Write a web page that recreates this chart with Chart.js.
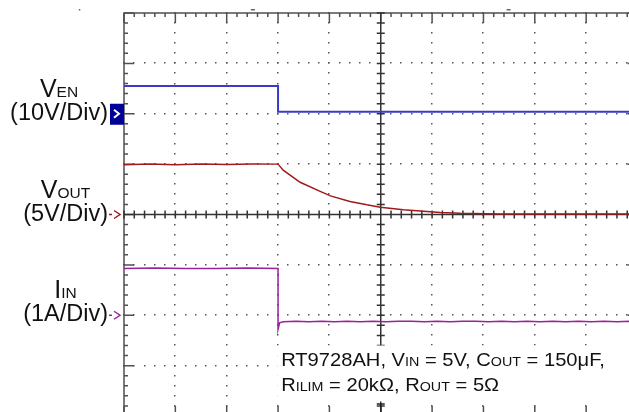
<!DOCTYPE html>
<html>
<head>
<meta charset="utf-8">
<script src="https://cdn.jsdelivr.net/npm/chart.js@4.4.1/dist/chart.umd.min.js"></script>
<style>
html, body { margin: 0; padding: 0; background: #fff; overflow: hidden; }
#wrap { position: relative; width: 629px; height: 412px; overflow: hidden; }
#scope { position: absolute; left: 0; top: 0; }
</style>
</head>
<body>
<div id="wrap"><canvas id="scope" width="640" height="420"></canvas></div>
<script>
// time in divisions from the left edge of the screen (10 div across)
const enTime = [0, 3.0, 3.0, 10];
const enVolts = [5.5, 5.5, 0.4, 0.4];

const outTime = [0, 0.5, 1.0, 1.5, 2.0, 2.5, 3.0, 3.1, 3.43, 3.82, 4.02, 4.4, 4.73, 4.99, 5.44, 5.9, 6.16, 6.55, 7.33, 8.5, 10];
const outVolts = [4.95, 5.0, 4.95, 5.0, 4.97, 5.02, 5.0, 4.4, 3.2, 2.3, 1.85, 1.3, 0.96, 0.73, 0.47, 0.3, 0.2, 0.12, 0.05, 0.05, 0.05];

const inTime = [0, 0.6, 1.2, 1.8, 2.4, 3.0, 3.0, 3.03, 3.1, 3.35, 3.6, 3.85, 4.1, 4.35, 4.6, 4.85, 5.1, 5.35, 5.6, 5.85, 6.1,
  6.35, 6.6, 6.85, 7.1, 7.35, 7.6, 7.85, 8.1, 8.35, 8.6, 8.85, 9.1, 9.35, 9.6, 9.85, 10];
const inAmps = [0.93, 0.94, 0.93, 0.93, 0.94, 0.93, -0.28, -0.15, -0.13, -0.12, -0.13, -0.12, -0.13, -0.12, -0.13, -0.12, -0.13,
  -0.12, -0.12, -0.13, -0.12, -0.13, -0.12, -0.12, -0.13, -0.12, -0.13, -0.12, -0.13, -0.12, -0.13, -0.12, -0.13, -0.12, -0.13, -0.12, -0.13];

// channel settings: names, scale per division, ground marker position (div from centre)
const chNames = [['V', 'EN'], ['V', 'OUT'], ['I', 'IN']];
const chScales = ['(10V/Div)', '(5V/Div)', '(1A/Div)'];
const perDiv = [10, 5, 1];
const groundDiv = [2, 0, -2];
const chColors = ['#3a3ac6', '#a01a1a', '#9a229a'];

const noteLines = [
  [['RT9728AH, V', 0], ['IN', 1], [' = 5V, C', 0], ['OUT', 1], [' = 150\u03BCF,', 0]],
  [['R', 0], ['ILIM', 1], [' = 20k\u03A9, R', 0], ['OUT', 1], [' = 5\u03A9', 0]]
];

function trace(times, vals, ch) {
  return times.map((t, i) => ({ x: t, y: groundDiv[ch] + vals[i] / perDiv[ch] }));
}

const FONT = '"Liberation Sans", Arial, sans-serif';

// draws a run of [text, isSub] pieces, returns width
function drawRich(ctx, parts, x, y, big, small, measureOnly) {
  let w = 0;
  parts.forEach(([txt, sub]) => {
    ctx.font = (sub ? small : big) + 'px ' + FONT;
    if (!measureOnly) ctx.fillText(txt, x + w, y);
    w += ctx.measureText(txt).width;
  });
  return w;
}

const scopeGrid = {
  id: 'scopeGrid',
  beforeDatasetsDraw(chart) {
    const { ctx, chartArea: a, scales: { x, y } } = chart;
    ctx.save();

    // dotted graticule
    ctx.fillStyle = '#555';
    for (let i = 1; i < 10; i++) {
      if (i === 5) continue;
      const px = Math.round(x.getPixelForValue(i));
      for (let s = 0; s <= 40; s++) {
        const py = Math.round(y.getPixelForValue(-4 + s / 5));
        ctx.fillRect(px - 1, py - 1, 1.5, 1.5);
      }
    }
    for (let j = -3; j <= 3; j++) {
      if (j === 0) continue;
      const py = Math.round(y.getPixelForValue(j));
      for (let s = 0; s <= 50; s++) {
        const px = Math.round(x.getPixelForValue(s / 5));
        ctx.fillRect(px - 1, py - 1, 1.5, 1.5);
      }
    }

    // frame with ticks
    ctx.strokeStyle = '#505050';
    ctx.lineWidth = 1.5;
    ctx.strokeRect(a.left, a.top, a.width, a.height);
    ctx.beginPath();
    for (let s = 0; s <= 50; s++) {
      const px = x.getPixelForValue(s / 5);
      const len = s % 5 === 0 ? 10 : 4;
      ctx.moveTo(px, a.top); ctx.lineTo(px, a.top + len);
      ctx.moveTo(px, a.bottom); ctx.lineTo(px, a.bottom - len);
    }
    for (let s = 0; s <= 40; s++) {
      const py = y.getPixelForValue(-4 + s / 5);
      const len = s % 5 === 0 ? 10 : 4;
      ctx.moveTo(a.left, py); ctx.lineTo(a.left + len, py);
      ctx.moveTo(a.right, py); ctx.lineTo(a.right - len, py);
    }
    ctx.stroke();

    // centre axes
    const cx = x.getPixelForValue(5);
    const cy = y.getPixelForValue(0);
    ctx.strokeStyle = '#333';
    ctx.lineWidth = 1.5;
    ctx.beginPath();
    ctx.moveTo(a.left, cy); ctx.lineTo(a.right, cy);
    ctx.moveTo(cx, a.top); ctx.lineTo(cx, a.bottom);
    for (let s = 0; s <= 50; s++) {
      const px = x.getPixelForValue(s / 5);
      ctx.moveTo(px, cy - 4); ctx.lineTo(px, cy + 4);
    }
    for (let s = 0; s <= 40; s++) {
      const py = y.getPixelForValue(-4 + s / 5);
      ctx.moveTo(cx - 4, py); ctx.lineTo(cx + 4, py);
    }
    ctx.stroke();

    // test-condition note on a white patch
    const nx = x.getPixelForValue(3.06);
    const ny = y.getPixelForValue(-2.6);
    ctx.fillStyle = '#fff';
    ctx.fillRect(nx - 4, ny, a.right - nx + 4, 56);
    ctx.fillStyle = '#111';
    ctx.textBaseline = 'alphabetic';
    ctx.textAlign = 'left';
    ctx.save();
    ctx.translate(nx, 0);
    ctx.scale(1.06, 1);
    drawRich(ctx, noteLines[0], 0, ny + 21, 19, 13.5);
    drawRich(ctx, noteLines[1], 0, ny + 46, 19, 13.5);
    ctx.restore();

    // trigger marker at the bottom
    ctx.strokeStyle = '#222';
    ctx.lineWidth = 1.5;
    ctx.beginPath();
    ctx.moveTo(cx, a.bottom); ctx.lineTo(cx, a.bottom - 12);
    ctx.moveTo(cx - 4, a.bottom - 12); ctx.lineTo(cx + 4, a.bottom - 12);
    ctx.stroke();
    ctx.restore();
  },
  afterDraw(chart) {
    const { ctx, chartArea: a, scales: { x, y } } = chart;
    ctx.save();
    ctx.textBaseline = 'alphabetic';
    const right = a.left - 16;
    chScales.forEach((label, ch) => {
      const gp = y.getPixelForValue(groundDiv[ch]);
      ctx.fillStyle = '#111';
      ctx.font = '23.5px ' + FONT;
      ctx.textAlign = 'left';
      const lw = ctx.measureText(label).width;
      ctx.fillText(label, right - lw, gp + 6);
      const mid = right - lw / 2;
      const nameW = drawRich(ctx, [[chNames[ch][0], 0], [chNames[ch][1], 1]], 0, 0, 25, 15.5, true);
      drawRich(ctx, [[chNames[ch][0], 0], [chNames[ch][1], 1]], mid - nameW / 2, gp - 17, 25, 15.5);

      // ground markers
      if (ch === 0) {
        ctx.fillStyle = '#00009a';
        ctx.fillRect(a.left - 14, gp - 10, 14, 21);
        ctx.strokeStyle = '#fff';
        ctx.lineWidth = 2;
        ctx.beginPath();
        ctx.moveTo(a.left - 10, gp - 4); ctx.lineTo(a.left - 5, gp); ctx.lineTo(a.left - 10, gp + 4);
        ctx.stroke();
      } else {
        ctx.strokeStyle = chColors[ch];
        ctx.lineWidth = 1.5;
        ctx.beginPath();
        ctx.moveTo(a.left - 15, gp); ctx.lineTo(a.left - 12, gp);
        ctx.moveTo(a.left - 10, gp - 4); ctx.lineTo(a.left - 4, gp); ctx.lineTo(a.left - 10, gp + 4);
        ctx.stroke();
      }
    });

    // cursor marks above the frame
    ctx.fillStyle = '#666';
    [2.51, 7.49].forEach(v => {
      ctx.fillRect(x.getPixelForValue(v) - 2, a.top - 4, 4, 1.5);
    });
    ctx.fillRect(x.getPixelForValue(-0.88), a.top - 4, 1.5, 1.5);
    ctx.restore();
  }
};

new Chart(document.getElementById('scope'), {
  type: 'line',
  data: {
    datasets: [
      { data: trace(enTime, enVolts, 0), borderColor: chColors[0], borderWidth: 2 },
      { data: trace(outTime, outVolts, 1), borderColor: chColors[1], borderWidth: 1.5 },
      { data: trace(inTime, inAmps, 2), borderColor: chColors[2], borderWidth: 1.5 }
    ]
  },
  options: {
    responsive: false,
    animation: false,
    devicePixelRatio: 1,
    layout: { padding: { left: 124, top: 13, right: 2.5, bottom: 4 } },
    elements: { point: { radius: 0 }, line: { tension: 0 } },
    plugins: { legend: { display: false }, tooltip: { enabled: false } },
    scales: {
      x: { type: 'linear', min: 0, max: 10, display: false },
      y: { type: 'linear', min: -4, max: 4, display: false }
    }
  },
  plugins: [scopeGrid]
});
</script>
</body>
</html>
